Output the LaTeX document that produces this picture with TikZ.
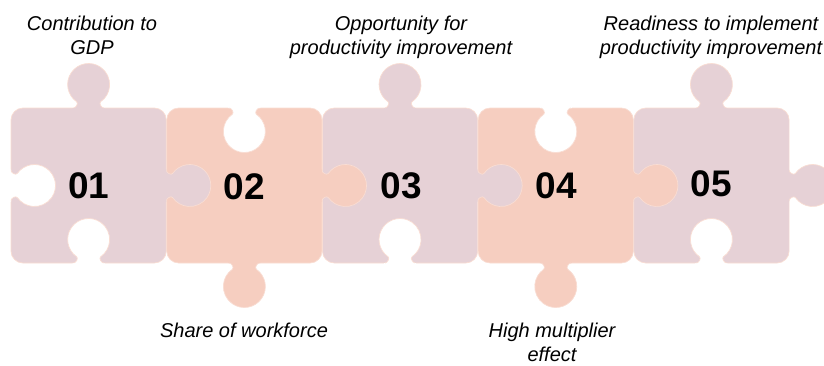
\documentclass[tikz,border=0pt]{standalone}
\usepackage{fontspec}
\setmainfont{Liberation Sans}
\definecolor{mauve}{HTML}{E6D1D6}
\definecolor{peach}{HTML}{F6CEC0}
\definecolor{edgec}{HTML}{F9DDD3}
\tikzset{
  edgeline/.style={draw=edgec, line width=0.7pt},
  body/.style={edgeline, rounded corners=12},
  numtext/.style={inner sep=0pt, font=\bfseries\fontsize{37}{40}\selectfont},
  labtext/.style={inner sep=0pt, align=center, anchor=north, font=\itshape\fontsize{20}{23.5}\selectfont}
}
\newcommand\knob[4]{%
  \begin{scope}[shift={(#1,#2)},rotate=#3]
    \fill[#4] (-16,-1.2) -- (-16,0) -- (-15,0) .. controls (-12.5,0.3) and (-10,4.9) .. (-12.05,6.3)
      arc[start angle=235,end angle=-55,radius=21]
      .. controls (10,4.9) and (12.5,0.3) .. (15,0) -- (16,0) -- (16,-1.2) -- cycle;
    \draw[edgeline] (-15,0) .. controls (-12.5,0.3) and (-10,4.9) .. (-12.05,6.3)
      arc[start angle=235,end angle=-55,radius=21]
      .. controls (10,4.9) and (12.5,0.3) .. (15,0);
  \end{scope}}
\begin{document}
\begin{tikzpicture}[x=1pt,y=1pt]
\useasboundingbox (0,0) rectangle (824,-365);
% bodies
\draw[body, fill=mauve] (11,-108) rectangle (166.3,-263);
\draw[body, fill=peach] (166.7,-108) rectangle (322,-263);
\draw[body, fill=mauve] (322.4,-108) rectangle (477.7,-263);
\draw[body, fill=peach] (478.1,-108) rectangle (633.4,-263);
\draw[body, fill=mauve] (633.8,-108) rectangle (789.1,-263);
% tabs: top (odd pieces), bottom (even pieces), right (all)
\knob{88.65}{-108}{0}{mauve}
\knob{400.05}{-108}{0}{mauve}
\knob{711.45}{-108}{0}{mauve}
\knob{244.35}{-263}{180}{peach}
\knob{555.75}{-263}{180}{peach}
\knob{166.3}{-185.5}{-90}{mauve}
\knob{322}{-185.5}{-90}{peach}
\knob{477.7}{-185.5}{-90}{mauve}
\knob{633.4}{-185.5}{-90}{peach}
\knob{789.1}{-185.5}{-90}{mauve}
% open holes
\knob{11}{-185.5}{-90}{white}
\knob{88.65}{-263}{0}{white}
\knob{400.05}{-263}{0}{white}
\knob{711.45}{-263}{0}{white}
\knob{244.35}{-108}{180}{white}
\knob{555.75}{-108}{180}{white}
% numbers
\node[numtext] (n1) at (88.65,-186) {01};
\node[numtext] (n2) at (244.35,-186.5) {02};
\node[numtext] (n3) at (401,-185.5) {03};
\node[numtext] (n4) at (556.5,-185.5) {04};
\node[numtext] (n5) at (711.5,-183.5) {05};
% labels
\node[labtext] (l1) at (92,-16) {Contribution to\\GDP};
\node[labtext] (l3) at (401,-16) {Opportunity for\\productivity improvement};
\node[labtext] (l5) at (711,-16) {Readiness to implement\\productivity improvement};
\node[labtext] (l2) at (244,-323) {Share of workforce};
\node[labtext] (l4) at (552,-323) {High multiplier\\effect};
\end{tikzpicture}
\end{document}
